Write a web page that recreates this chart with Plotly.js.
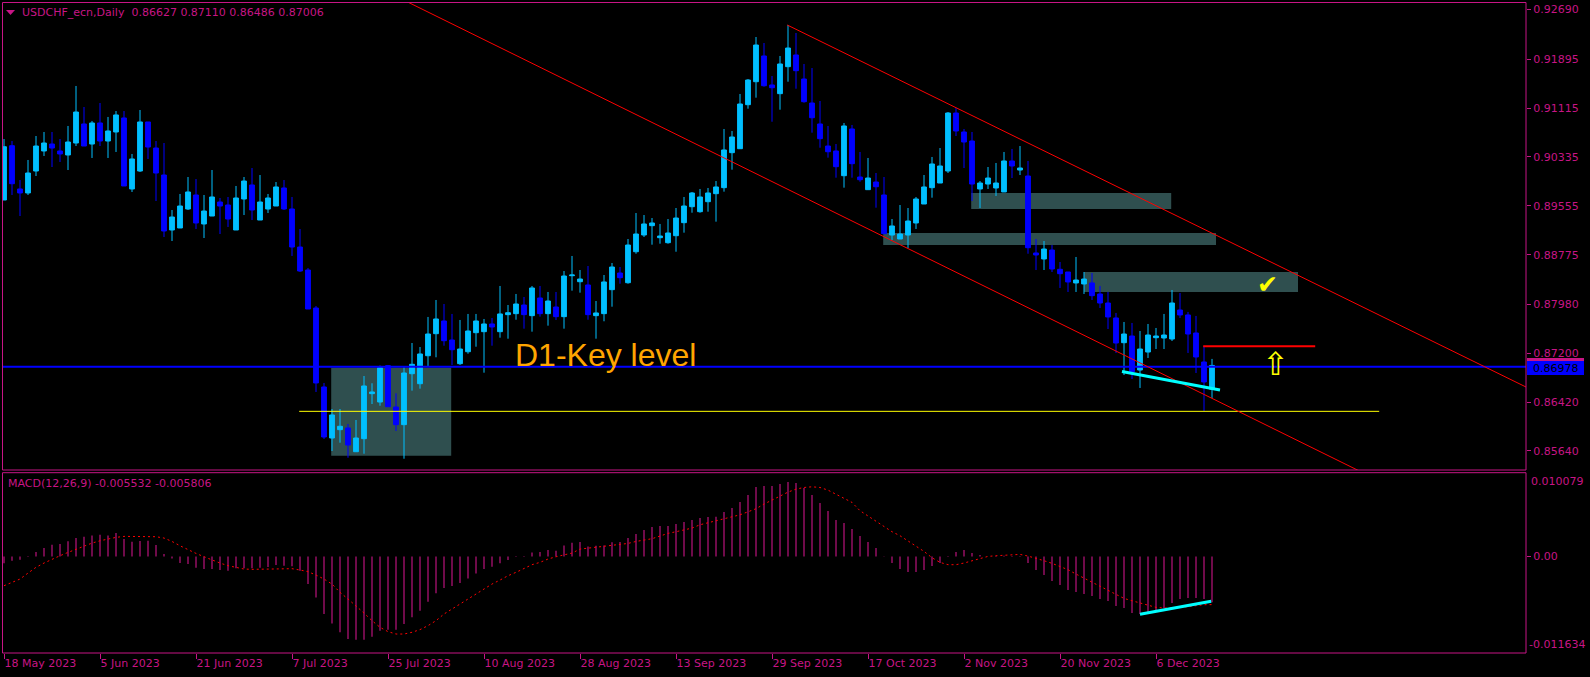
<!DOCTYPE html>
<html><head><meta charset="utf-8">
<script src="https://cdn.plot.ly/plotly-3.0.1.min.js"></script>
<style>html,body{margin:0;padding:0;background:#000;overflow:hidden}#chart{width:1590px;height:677px}</style>
</head><body><div id="chart"></div>
<script>
// ---------- DATA ----------
const symbol = 'USDCHF_ecn';
const timeframe = 'Daily';
const tickBars = [0, 12, 24, 36, 48, 60, 72, 84, 96, 108, 120, 132, 144];
const tickLabels = ['18 May 2023','5 Jun 2023','21 Jun 2023','7 Jul 2023','25 Jul 2023','10 Aug 2023','28 Aug 2023','13 Sep 2023','29 Sep 2023','17 Oct 2023','2 Nov 2023','20 Nov 2023','6 Dec 2023'];
const priceTicks = [0.92690, 0.91895, 0.91115, 0.90335, 0.89555, 0.88775, 0.87980, 0.87200, 0.86420, 0.85640];
const macdTop = 0.010079;
const macdBottom = -0.011634;
const bidPrice = 0.86978;

const open = [
0.89648,0.90515,0.89824,0.89760,0.90111,0.90431,0.90542,0.90431,0.90367,0.90558,
0.90862,0.90542,0.90878,0.90590,0.90734,0.90958,0.89824,0.90111,0.90894,0.90478,
0.90047,0.89169,0.89201,0.89504,0.89728,0.89265,0.89392,0.89616,0.89568,0.89169,
0.89664,0.89888,0.89328,0.89504,0.89552,0.89840,0.89504,0.88897,0.88530,0.87923,
0.86662,0.85847,0.85980,0.86007,0.85628,0.85836,0.86555,0.86422,0.87002,0.86342,
0.86060,0.86874,0.86714,0.87161,0.87513,0.87716,0.87412,0.87034,0.87225,0.87529,
0.87545,0.87668,0.87545,0.87817,0.87833,0.87971,0.87801,0.88083,0.87833,0.87939,
0.87785,0.88439,0.88343,0.88291,0.87801,0.87833,0.88216,0.88482,0.88327,0.88822,
0.89089,0.89238,0.89046,0.88966,0.89078,0.89286,0.89541,0.89461,0.89621,0.89749,
0.89845,0.90404,0.90467,0.91170,0.91537,0.91948,0.91485,0.91346,0.91777,0.91964,
0.91580,0.91197,0.90862,0.90510,0.90431,0.90036,0.90782,0.90015,0.89813,0.89935,
0.89728,0.89089,0.89025,0.89089,0.89281,0.89584,0.89845,0.89919,0.90111,0.91037,
0.90734,0.90590,0.89824,0.89903,0.89840,0.89776,0.90271,0.90127,0.90031,0.88802,
0.88706,0.88849,0.88541,0.88498,0.88323,0.88307,0.88323,0.88147,0.88003,0.87764,
0.87369,0.87476,0.86933,0.87220,0.87449,0.87444,0.87428,0.87891,0.87812,0.87524,
0.87061,0.86627];
const high = [
0.90622,0.90590,0.89967,0.90287,0.90670,0.90734,0.90734,0.90622,0.90830,0.91469,
0.91133,0.90910,0.91197,0.90974,0.91069,0.91069,0.90383,0.91085,0.90894,0.90590,
0.90558,0.89488,0.89744,0.90015,0.89983,0.89728,0.90127,0.89680,0.89696,0.89872,
0.90015,0.90159,0.90047,0.89744,0.89935,0.89967,0.89696,0.89185,0.88562,0.87955,
0.86726,0.86310,0.86310,0.86071,0.86135,0.86837,0.86721,0.87002,0.87013,0.86561,
0.86976,0.87364,0.87300,0.87780,0.88051,0.87987,0.87828,0.87732,0.87828,0.87828,
0.87748,0.87764,0.88275,0.87971,0.88147,0.88099,0.88275,0.88275,0.88179,0.88179,
0.88514,0.88754,0.88530,0.88594,0.88035,0.88450,0.88642,0.88578,0.89025,0.89440,
0.89408,0.89360,0.89265,0.89344,0.89520,0.89696,0.89776,0.89824,0.89840,0.89951,
0.90782,0.90750,0.91341,0.91580,0.92251,0.92155,0.91628,0.91948,0.92443,0.92315,
0.91820,0.91756,0.91229,0.90830,0.90542,0.90878,0.90846,0.90415,0.90319,0.90079,
0.90015,0.89344,0.89568,0.89520,0.89696,0.90047,0.90335,0.90478,0.91053,0.91117,
0.90782,0.90734,0.89951,0.90175,0.90239,0.90415,0.90463,0.90510,0.90271,0.89025,
0.88993,0.88929,0.88658,0.88498,0.88738,0.88498,0.88482,0.88275,0.88179,0.87844,
0.87700,0.87684,0.87556,0.87668,0.87604,0.87828,0.88211,0.88163,0.87860,0.87796,
0.87316,0.87110];
const low = [
0.89648,0.89728,0.89392,0.89728,0.90031,0.90351,0.90175,0.90255,0.90127,0.90510,
0.90510,0.90319,0.90510,0.90319,0.90415,0.89872,0.89776,0.90095,0.90303,0.89632,
0.89057,0.88993,0.89201,0.89488,0.89185,0.89041,0.89392,0.89105,0.89217,0.89169,
0.89408,0.89328,0.89328,0.89440,0.89552,0.89488,0.88754,0.88498,0.87907,0.86582,
0.85831,0.85639,0.85772,0.85532,0.85628,0.85596,0.86390,0.86363,0.86347,0.85959,
0.85516,0.86603,0.86635,0.86986,0.87136,0.87321,0.87013,0.87013,0.87193,0.87305,
0.86890,0.87321,0.87449,0.87433,0.87736,0.87593,0.87545,0.87785,0.87641,0.87732,
0.87593,0.88200,0.88168,0.87736,0.87433,0.87711,0.87944,0.88311,0.88311,0.88790,
0.89057,0.88934,0.88950,0.88950,0.88822,0.89126,0.89445,0.89445,0.89461,0.89302,
0.89781,0.90132,0.90467,0.91106,0.91282,0.91457,0.90898,0.91090,0.91537,0.91425,
0.91202,0.90723,0.90483,0.90324,0.90004,0.89845,0.90004,0.89940,0.89813,0.89525,
0.89110,0.89009,0.89025,0.88881,0.89185,0.89584,0.89685,0.89919,0.90079,0.90670,
0.90159,0.89632,0.89520,0.89824,0.89712,0.89776,0.89999,0.90047,0.88790,0.88530,
0.88530,0.88498,0.88243,0.88179,0.88179,0.88147,0.88051,0.87923,0.87588,0.87205,
0.86853,0.86789,0.86646,0.87125,0.87268,0.87268,0.87396,0.87764,0.87205,0.86885,
0.86278,0.86486];
const close = [
0.90499,0.89908,0.89760,0.90079,0.90510,0.90558,0.90478,0.90383,0.90574,0.91053,
0.90510,0.90878,0.90590,0.90750,0.91006,0.89872,0.90303,0.90894,0.90494,0.90079,
0.89153,0.89376,0.89552,0.89776,0.89281,0.89472,0.89696,0.89552,0.89344,0.89680,
0.89951,0.89488,0.89616,0.89680,0.89856,0.89504,0.88897,0.88514,0.87907,0.86726,
0.85863,0.86215,0.86034,0.85735,0.85847,0.86678,0.86582,0.86970,0.86347,0.86060,
0.86885,0.87024,0.87189,0.87508,0.87748,0.87401,0.87257,0.87268,0.87556,0.87716,
0.87668,0.87620,0.87828,0.87848,0.87987,0.87817,0.88243,0.87833,0.88035,0.87785,
0.88434,0.88450,0.88386,0.87817,0.87844,0.88339,0.88578,0.88407,0.88929,0.89105,
0.89265,0.89281,0.89073,0.89121,0.89360,0.89552,0.89760,0.89696,0.89760,0.89856,
0.90447,0.90654,0.91181,0.91564,0.92123,0.91473,0.91441,0.91820,0.92075,0.91713,
0.91218,0.90962,0.90627,0.90419,0.90180,0.90830,0.90228,0.89972,0.89999,0.89860,
0.89110,0.89233,0.89105,0.89312,0.89664,0.89856,0.90223,0.90191,0.91037,0.90750,
0.90574,0.89903,0.89919,0.89999,0.89919,0.90271,0.90191,0.90159,0.88886,0.88770,
0.88865,0.88546,0.88471,0.88339,0.88370,0.88386,0.88120,0.88003,0.87780,0.87364,
0.87508,0.86906,0.87268,0.87492,0.87476,0.87492,0.88003,0.87812,0.87508,0.87141,
0.86742,0.87006];
const macdMain = [
-0.00084,-0.00052,-0.00040,-0.00008,0.00052,0.00100,0.00140,0.00148,0.00181,0.00221,
0.00237,0.00253,0.00261,0.00253,0.00281,0.00209,0.00177,0.00185,0.00189,0.00136,
0.00028,-0.00024,-0.00080,-0.00092,-0.00136,-0.00152,-0.00152,-0.00165,-0.00173,-0.00144,
-0.00144,-0.00144,-0.00136,-0.00128,-0.00104,-0.00112,-0.00120,-0.00173,-0.00333,-0.00494,
-0.00694,-0.00807,-0.00915,-0.00995,-0.01003,-0.01003,-0.00967,-0.00895,-0.00883,-0.00883,
-0.00815,-0.00734,-0.00654,-0.00546,-0.00445,-0.00381,-0.00357,-0.00321,-0.00265,-0.00205,
-0.00152,-0.00124,-0.00084,-0.00044,-0.00008,0.00004,0.00048,0.00052,0.00076,0.00068,
0.00132,0.00165,0.00173,0.00120,0.00128,0.00130,0.00169,0.00173,0.00221,0.00269,
0.00317,0.00353,0.00365,0.00365,0.00389,0.00413,0.00437,0.00461,0.00474,0.00478,
0.00534,0.00582,0.00654,0.00738,0.00835,0.00847,0.00847,0.00871,0.00895,0.00883,
0.00823,0.00738,0.00642,0.00546,0.00437,0.00401,0.00329,0.00245,0.00173,0.00100,
0.00002,-0.00080,-0.00152,-0.00189,-0.00189,-0.00165,-0.00116,-0.00080,-0.00008,0.00052,
0.00076,0.00040,0.00016,0.00000,0.00004,0.00008,0.00004,0.00004,-0.00080,-0.00165,
-0.00225,-0.00297,-0.00345,-0.00405,-0.00429,-0.00453,-0.00478,-0.00514,-0.00538,-0.00598,
-0.00622,-0.00682,-0.00694,-0.00694,-0.00646,-0.00622,-0.00562,-0.00514,-0.00502,-0.00502,
-0.00514,-0.005532];
const macdSignal = [
-0.00353,-0.00313,-0.00273,-0.00201,-0.00132,-0.00080,-0.00032,0.00008,0.00048,0.00088,
0.00128,0.00160,0.00188,0.00209,0.00229,0.00241,0.00241,0.00241,0.00241,0.00237,
0.00221,0.00180,0.00128,0.00080,0.00036,-0.00004,-0.00044,-0.00080,-0.00112,-0.00136,
-0.00152,-0.00156,-0.00156,-0.00156,-0.00152,-0.00148,-0.00148,-0.00164,-0.00184,-0.00225,
-0.00273,-0.00333,-0.00433,-0.00513,-0.00594,-0.00682,-0.00774,-0.00854,-0.00906,-0.00935,
-0.00935,-0.00914,-0.00882,-0.00834,-0.00774,-0.00694,-0.00634,-0.00573,-0.00513,-0.00453,
-0.00393,-0.00333,-0.00285,-0.00233,-0.00192,-0.00144,-0.00100,-0.00072,-0.00032,-0.00004,
0.00020,0.00040,0.00088,0.00100,0.00108,0.00120,0.00132,0.00144,0.00156,0.00180,
0.00196,0.00213,0.00245,0.00277,0.00297,0.00317,0.00341,0.00381,0.00405,0.00425,
0.00445,0.00469,0.00501,0.00537,0.00574,0.00630,0.00678,0.00722,0.00774,0.00810,
0.00830,0.00838,0.00830,0.00798,0.00750,0.00702,0.00650,0.00550,0.00489,0.00429,
0.00361,0.00297,0.00249,0.00189,0.00128,0.00060,-0.00016,-0.00072,-0.00100,-0.00100,
-0.00080,-0.00056,-0.00024,0.00000,0.00008,0.00016,0.00024,0.00024,0.00004,-0.00020,
-0.00052,-0.00084,-0.00120,-0.00160,-0.00213,-0.00261,-0.00309,-0.00357,-0.00413,-0.00461,
-0.00506,-0.00534,-0.00562,-0.00594,-0.00614,-0.00622,-0.00622,-0.00614,-0.00606,-0.00594,
-0.00582,-0.005806];

// drawing objects: [bar index, price]
const keyLevel = 0.86985;
const yellowLine = [[36.9, 0.86273], [171.9, 0.86273]];
const upperChannel = [[97.9, 0.92443], [137.0, 0.89995]];
const lowerChannel = [[123.25, 0.88227], [152.0, 0.86417]];
const redTarget = [[149.9, 0.87312], [163.9, 0.87312]];
const cyanPrice = [[139.75, 0.86909], [152.0, 0.86614]];
const cyanMacd = [[142.0, -0.00697], [150.9, -0.00540]];
// zones: [bar0, bar1, priceTop, priceBottom]
const zones = [
  [40.9, 55.9, 0.86970, 0.85565],
  [120.9, 145.9, 0.89760, 0.89504],
  [109.9, 151.5, 0.89121, 0.88929],
  [135.0, 161.75, 0.88498, 0.88179]
];
const keyLabel = 'D1-Key level';
const checkMark = [157.9, 0.88291];
const upArrow = [158.9, 0.87029];

// ---------- LAYOUT ----------
const W = 1590, H = 677, L = 3, R = 64, T = 2, B = 24;
const PW = W - L - R, PH = H - T - B;
const pxX = p => (p - L) / PW;
const pxY = p => (H - B - p) / PH;
const FG = '#C71585';
const FONT = 'DejaVu Sans, Verdana, sans-serif';
const X0 = -0.125, X1 = 190.25;
const Y0 = 0.85336, Y1 = 0.92810;
const idx = open.map((_, i) => i);

function extend(p, q, xa, xb) {
  const s = (q[1] - p[1]) / (q[0] - p[0]);
  return [[xa, p[1] + s * (xa - p[0])], [xb, p[1] + s * (xb - p[0])]];
}
function seg(a, b, color, width, yref, dash) {
  return {type: 'line', xref: 'x', yref: yref || 'y', x0: a[0], y0: a[1], x1: b[0], y1: b[1],
          line: {color: color, width: width, dash: dash || 'solid'}};
}

const shapes = [];
zones.forEach(z => shapes.push({type: 'rect', xref: 'x', yref: 'y', layer: 'below',
  x0: z[0], x1: z[1], y0: z[3], y1: z[2], fillcolor: '#2F4F4F', line: {width: 0}}));
shapes.push(seg([X0, keyLevel], [X1, keyLevel], '#0000FF', 2));
shapes.push(seg(yellowLine[0], yellowLine[1], '#FFFF00', 1));
const uc = extend(upperChannel[0], upperChannel[1], upperChannel[0][0], X1);
shapes.push(seg(uc[0], uc[1], '#FF0000', 1));
const lc = extend(lowerChannel[0], lowerChannel[1], X0, X1);
shapes.push(seg(lc[0], lc[1], '#FF0000', 1));
shapes.push(seg(redTarget[0], redTarget[1], '#FF0000', 2));
shapes.push(seg(cyanPrice[0], cyanPrice[1], '#00FFFF', 3));
shapes.push(seg(cyanMacd[0], cyanMacd[1], '#00FFFF', 3, 'y2'));
// panel borders
shapes.push({type: 'rect', xref: 'paper', yref: 'paper', x0: pxX(2.5), x1: pxX(1526), y0: pxY(470), y1: pxY(2.5),
  line: {color: FG, width: 1}, fillcolor: 'rgba(0,0,0,0)'});
shapes.push({type: 'rect', xref: 'paper', yref: 'paper', x0: pxX(2.5), x1: pxX(1526), y0: pxY(653), y1: pxY(472.7),
  line: {color: FG, width: 1}, fillcolor: 'rgba(0,0,0,0)'});
// symbol triangle
shapes.push({type: 'path', xref: 'paper', yref: 'paper',
  path: `M ${pxX(6)} ${pxY(10)} L ${pxX(15)} ${pxY(10)} L ${pxX(10.5)} ${pxY(15)} Z`,
  fillcolor: FG, line: {width: 0}});
// bid price box
shapes.push({type: 'rect', xref: 'paper', yref: 'paper', x0: pxX(1527), x1: pxX(1584), y0: pxY(361), y1: pxY(358),
  fillcolor: FG, line: {width: 0}});
shapes.push({type: 'rect', xref: 'paper', yref: 'paper', x0: pxX(1527), x1: pxX(1584), y0: pxY(375), y1: pxY(361),
  fillcolor: '#0000FF', line: {width: 0}});

const last = open.length - 1;
const f5 = v => v.toFixed(5);
const annotations = [
  {xref: 'paper', yref: 'paper', x: pxX(20), y: pxY(12.5), xanchor: 'left', yanchor: 'middle', showarrow: false,
   text: `${symbol},${timeframe}  ${f5(open[last])} ${f5(high[last])} ${f5(low[last])} ${f5(close[last])}`,
   font: {family: FONT, size: 11, color: FG}},
  {xref: 'paper', yref: 'paper', x: pxX(6), y: pxY(483.5), xanchor: 'left', yanchor: 'middle', showarrow: false,
   text: `MACD(12,26,9) ${macdMain[last].toFixed(6)} ${macdSignal[last].toFixed(6)}`,
   font: {family: FONT, size: 11, color: FG}},
  {xref: 'x', yref: 'paper', x: 63.6, y: pxY(375), xanchor: 'left', yanchor: 'bottom', showarrow: false,
   text: keyLabel, font: {family: 'Liberation Sans, Arial, sans-serif', size: 32, color: '#FFA500'}},
  {xref: 'x', yref: 'y', x: checkMark[0], y: checkMark[1], xanchor: 'center', yanchor: 'middle', showarrow: false,
   text: '✔', font: {family: 'DejaVu Sans', size: 25, color: '#FFFF00'}},
  {xref: 'x', yref: 'y', x: upArrow[0], y: upArrow[1], xanchor: 'center', yanchor: 'middle', showarrow: false,
   text: '⇧', font: {family: 'DejaVu Sans', size: 32, color: '#FFFF00'}},
  {xref: 'paper', yref: 'paper', x: pxX(1555.5), y: pxY(368), xanchor: 'center', yanchor: 'middle', showarrow: false,
   text: bidPrice.toFixed(5), font: {family: FONT, size: 11, color: '#000000'}},
  {xref: 'paper', yref: 'y2', x: pxX(1529), y: macdTop, xanchor: 'left', yanchor: 'top', showarrow: false,
   text: macdTop.toFixed(6), font: {family: FONT, size: 11, color: FG}},
  {xref: 'paper', yref: 'y2', x: pxX(1527), y: macdBottom, xanchor: 'left', yanchor: 'bottom', showarrow: false,
   text: macdBottom.toFixed(6), font: {family: FONT, size: 11, color: FG}}
];

const traces = [
  {type: 'candlestick', x: idx, open: open, high: high, low: low, close: close, xaxis: 'x', yaxis: 'y',
   increasing: {line: {color: '#00BFFF', width: 1}, fillcolor: '#00BFFF'},
   decreasing: {line: {color: '#0000FF', width: 1}, fillcolor: '#0000FF'},
   whiskerwidth: 0, hoverinfo: 'skip'},
  {type: 'bar', x: idx, y: macdMain, xaxis: 'x', yaxis: 'y2', width: 0.14,
   marker: {color: FG, line: {width: 0}}, hoverinfo: 'skip'},
  {type: 'scatter', mode: 'lines', x: idx, y: macdSignal, xaxis: 'x', yaxis: 'y2',
   line: {color: '#FF0000', width: 1, dash: '2px,3px'}, hoverinfo: 'skip'}
];

const layout = {
  width: W, height: H, margin: {l: L, r: R, t: T, b: B, pad: 0},
  paper_bgcolor: '#000000', plot_bgcolor: '#000000', showlegend: false,
  font: {family: FONT, size: 11, color: FG},
  boxgap: 0.4, boxgroupgap: 0,
  xaxis: {type: 'linear', range: [X0, X1], anchor: 'y2', showgrid: false, zeroline: false, showline: false,
    rangeslider: {visible: false}, fixedrange: true,
    tickmode: 'array', tickvals: tickBars, ticktext: tickLabels, ticks: 'outside', ticklen: 5, tickwidth: 1,
    tickcolor: FG, ticklabelposition: 'outside right', tickfont: {family: FONT, size: 11, color: FG}},
  yaxis: {domain: [pxY(470), 1], range: [Y0, Y1], side: 'right', anchor: 'x', showgrid: false, zeroline: false,
    showline: false, tickmode: 'array', tickvals: priceTicks, ticktext: priceTicks.map(f5),
    ticks: 'outside', ticklen: 4, tickwidth: 1, tickcolor: FG, tickfont: {family: FONT, size: 11, color: FG}},
  yaxis2: {domain: [0, pxY(472.7)], range: [macdBottom, macdTop], side: 'right', anchor: 'x', showgrid: false,
    zeroline: false, showline: false, tickmode: 'array', tickvals: [0], ticktext: ['0.00'],
    ticks: 'outside', ticklen: 4, tickwidth: 1, tickcolor: FG, tickfont: {family: FONT, size: 11, color: FG}},
  shapes: shapes, annotations: annotations
};

Plotly.newPlot('chart', traces, layout, {staticPlot: true, displayModeBar: false});
</script>
</body></html>
